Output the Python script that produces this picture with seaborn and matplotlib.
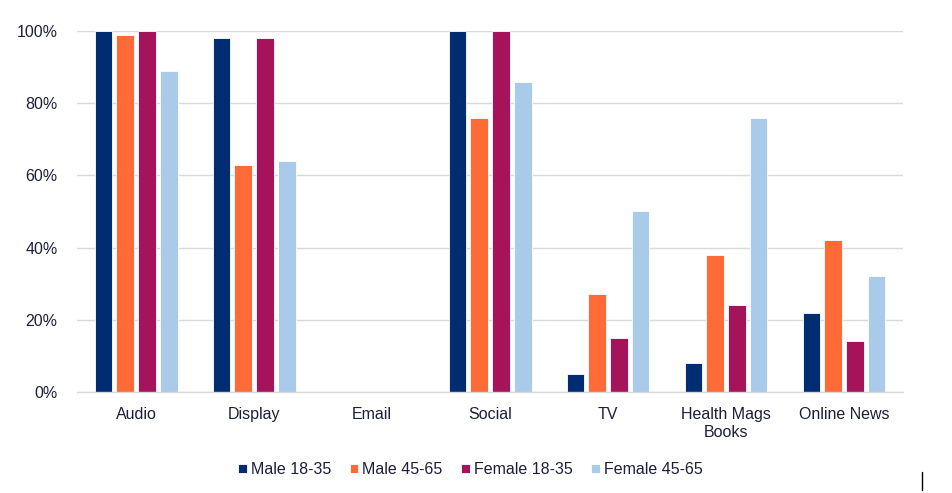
import matplotlib
matplotlib.use("Agg")
import matplotlib.pyplot as plt
import seaborn as sns
import pandas as pd
from matplotlib.ticker import FuncFormatter
from matplotlib.lines import Line2D

categories = ["Audio", "Display", "Email", "Social", "TV", "Health Mags\nBooks", "Online News"]
series = ["Male 18-35", "Male 45-65", "Female 18-35", "Female 45-65"]
male_18_35 = [100, 98, 0, 100, 5, 8, 22]
male_45_65 = [99, 63, 0, 76, 27, 38, 42]
female_18_35 = [100, 98, 0, 100, 15, 24, 14]
female_45_65 = [89, 64, 0, 86, 50, 76, 32]
yticks = [0, 20, 40, 60, 80, 100]
colors = ["#002D72", "#FF6B37", "#A5135B", "#AACAE9"]

values = [male_18_35, male_45_65, female_18_35, female_45_65]
rows = []
for s, vals in zip(series, values):
    for c, v in zip(categories, vals):
        rows.append({"Category": c, "Series": s, "Value": v})
df = pd.DataFrame(rows)

sns.set_theme(style="white")
plt.rcParams["font.family"] = ["Liberation Sans", "DejaVu Sans"]
text_color = "#1b1f3b"

fig = plt.figure(figsize=(9.52, 4.93), dpi=100)
ax = fig.add_axes([0.081, 0.205, 0.8675, 0.732])

sns.barplot(data=df, x="Category", y="Value", hue="Series", order=categories,
            hue_order=series, palette=colors, saturation=1, width=0.74, gap=0.2,
            edgecolor="white", linewidth=0.6, ax=ax, legend=True)

ax.set_ylim(0, 100)
ax.set_xlim(-0.5, len(categories) - 0.5)
ax.set_yticks(yticks)
ax.yaxis.set_major_formatter(FuncFormatter(lambda v, p: f"{int(v)}%"))
ax.grid(axis="y", color="#d9d9d9", linewidth=1.0)
ax.set_axisbelow(True)
for sp in ["top", "right", "left"]:
    ax.spines[sp].set_visible(False)
ax.spines["bottom"].set_color("#d9d9d9")
ax.spines["bottom"].set_linewidth(1.0)
ax.set_xlabel("")
ax.set_ylabel("")
ax.tick_params(axis="both", length=0, labelsize=11.5, colors=text_color)
ax.tick_params(axis="x", pad=11)
ax.tick_params(axis="y", pad=14)

leg = ax.legend(loc="upper center", bbox_to_anchor=(0.476, -0.155), ncol=4, frameon=False,
                fontsize=11.5, handlelength=0.55, handleheight=0.55, handletextpad=0.25,
                columnspacing=1.15, labelcolor=text_color)

fig.add_artist(Line2D([922 / 952, 922 / 952], [1 - 472 / 493, 1 - 490 / 493],
                      color="black", linewidth=1.0, transform=fig.transFigure))

fig.savefig("out.png", dpi=100, facecolor="white")
